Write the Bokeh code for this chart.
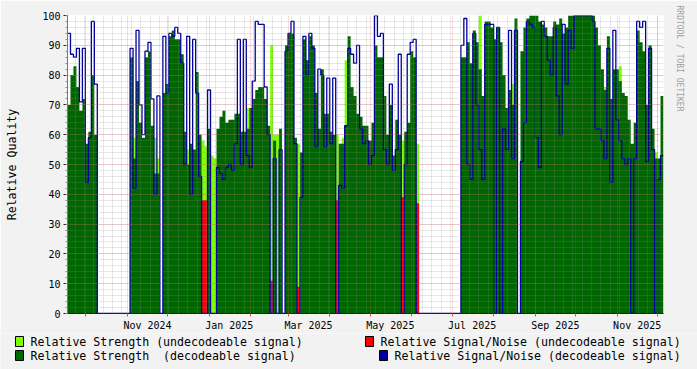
import math
from datetime import datetime, timedelta
from bokeh.plotting import figure
from bokeh.layouts import column
from bokeh.models import FixedTicker, DatetimeTickFormatter, Title
from bokeh.core.properties import value
from bokeh.embed import file_html
from bokeh.resources import INLINE

# ---------------- data (one sample per ~2.2 days) ----------------
START = datetime(2024, 9, 17, 9, 36)
SPAN_DAYS = 444.2
N_SAMPLES = 200

strength_dec = [
    70, 80, 83, 76, 68, 72, 57, 61, 80, 60,
    0, 0, 0, 0, 0, 0, 0, 0, 0, 0,
    0, 86, 52, 78, 64, 59, 86, 88, 63, 47,
    47, 0, 74, 77, 93, 95, 92, 92, 87, 61,
    50, 57, 55, 81, 60, 0, 0, 62, 0, 0,
    62, 66, 68, 64, 65, 65, 67, 67, 61, 61,
    62, 69, 72, 75, 76, 76, 72, 63, 0, 58,
    0, 62, 0, 90, 94, 94, 59, 0, 54, 92,
    85, 93, 90, 74, 62, 82, 67, 67, 61, 60,
    0, 57, 57, 63, 93, 76, 73, 67, 66, 63,
    63, 58, 64, 90, 86, 86, 73, 60, 70, 53,
    65, 60, 0, 61, 64, 88, 86, 0, 0, 0,
    0, 0, 0, 0, 0, 0, 0, 0, 0, 0,
    0, 0, 86, 86, 91, 84, 95, 91, 82, 73,
    98, 98, 96, 92, 96, 91, 80, 69, 75, 70,
    99, 0, 88, 96, 99, 100, 100, 100, 98, 97,
    96, 93, 93, 98, 97, 99, 94, 96, 100, 100,
    100, 100, 100, 100, 100, 100, 100, 96, 90, 82,
    75, 93, 72, 82, 82, 78, 74, 73, 65, 57,
    64, 95, 91, 88, 70, 90, 62, 52, 52, 73,
]

snr_dec = [
    94, 87, 86, 89, 71, 89, 44, 59, 98, 77,
    0, 0, 0, 0, 0, 0, 0, 0, 0, 0,
    0, 89, 42, 95, 70, 60, 88, 91, 72, 40,
    73, 0, 93, 74, 94, 93, 96, 94, 84, 50,
    93, 40, 92, 74, 46, 0, 0, 75, 0, 0,
    49, 47, 45, 49, 50, 48, 57, 92, 50, 92,
    53, 49, 78, 98, 97, 97, 76, 60, 0, 52,
    0, 55, 0, 88, 94, 98, 57, 0, 39, 93,
    80, 94, 89, 56, 82, 80, 56, 79, 57, 79,
    0, 43, 42, 63, 89, 87, 84, 90, 62, 57,
    58, 50, 53, 100, 93, 94, 55, 50, 77, 48,
    55, 87, 0, 50, 87, 91, 92, 0, 0, 0,
    0, 0, 0, 0, 0, 0, 0, 0, 0, 0,
    0, 0, 90, 99, 50, 45, 94, 70, 55, 45,
    97, 97, 97, 0, 96, 0, 62, 55, 95, 52,
    95, 0, 51, 64, 98, 97, 96, 59, 49, 98,
    93, 85, 80, 96, 73, 60, 97, 77, 95, 89,
    100, 100, 100, 100, 100, 100, 98, 62, 62, 58,
    52, 89, 44, 95, 65, 58, 52, 50, 52, 0,
    52, 98, 96, 98, 51, 89, 55, 0, 45, 53,
]

strength_undec = [
    0, 0, 0, 0, 0, 0, 0, 0, 0, 0,
    0, 0, 0, 0, 0, 0, 0, 0, 0, 0,
    0, 0, 59, 0, 0, 0, 0, 0, 0, 59,
    52, 0, 0, 0, 0, 0, 0, 0, 0, 0,
    55, 0, 0, 0, 0, 58, 56, 0, 53, 52,
    0, 0, 0, 0, 0, 0, 0, 0, 0, 0,
    69, 0, 0, 0, 0, 0, 0, 0, 90, 60,
    60, 0, 0, 0, 0, 0, 0, 57, 0, 0,
    0, 0, 0, 0, 0, 0, 0, 0, 0, 0,
    60, 0, 59, 85, 0, 0, 0, 0, 0, 0,
    0, 0, 0, 0, 0, 0, 0, 0, 0, 0,
    0, 0, 58, 58, 0, 0, 0, 57, 0, 0,
    0, 0, 0, 0, 0, 0, 0, 0, 0, 0,
    0, 0, 0, 0, 0, 0, 0, 0, 100, 0,
    0, 0, 0, 0, 0, 0, 0, 0, 0, 77,
    0, 0, 0, 0, 0, 0, 0, 0, 0, 0,
    0, 0, 0, 0, 0, 0, 0, 0, 0, 0,
    0, 0, 0, 0, 0, 0, 0, 0, 0, 0,
    76, 0, 0, 0, 0, 83, 0, 0, 0, 0,
    0, 0, 0, 0, 0, 0, 0, 54, 0, 0,
]

snr_undec = [
    0, 0, 0, 0, 0, 0, 0, 0, 0, 0,
    0, 0, 0, 0, 0, 0, 0, 0, 0, 0,
    0, 0, 0, 0, 0, 0, 0, 0, 0, 0,
    0, 0, 0, 0, 0, 0, 0, 0, 0, 0,
    0, 0, 0, 0, 0, 38, 38, 0, 0, 0,
    0, 0, 0, 0, 0, 0, 0, 0, 0, 0,
    0, 0, 0, 0, 0, 0, 0, 0, 11, 0,
    0, 0, 0, 0, 0, 0, 0, 9, 0, 0,
    0, 0, 0, 0, 0, 0, 0, 0, 0, 0,
    38, 0, 0, 0, 0, 0, 0, 0, 0, 0,
    0, 0, 0, 0, 0, 0, 0, 0, 0, 0,
    0, 0, 39, 0, 0, 0, 0, 37, 0, 0,
    0, 0, 0, 0, 0, 0, 0, 0, 0, 0,
    0, 0, 0, 0, 0, 0, 0, 0, 0, 0,
    0, 0, 0, 0, 0, 0, 0, 0, 0, 0,
    0, 0, 0, 0, 0, 0, 0, 0, 0, 0,
    0, 0, 0, 0, 0, 0, 0, 0, 0, 0,
    0, 0, 0, 0, 0, 0, 0, 0, 0, 0,
    0, 0, 0, 0, 0, 0, 0, 0, 0, 0,
    0, 0, 0, 0, 0, 0, 0, 0, 0, 0,
]

Y_TICKS = [0, 10, 20, 30, 40, 50, 60, 70, 80, 90, 100]
Y_MINOR = [0, 2, 4, 6, 8, 10, 12, 14, 16, 18, 20, 22, 24, 26, 28, 30, 32, 34, 36, 38,
           40, 42, 44, 46, 48, 50, 52, 54, 56, 58, 60, 62, 64, 66, 68, 70, 72, 74, 76, 78,
           80, 82, 84, 86, 88, 90, 92, 94, 96, 98, 100]
LABEL_MONTHS = [(2024, 11), (2025, 1), (2025, 3), (2025, 5), (2025, 7), (2025, 9), (2025, 11)]
GRID_MONTHS = [(2024, 10), (2024, 11), (2024, 12), (2025, 1), (2025, 2), (2025, 3), (2025, 4),
               (2025, 5), (2025, 6), (2025, 7), (2025, 8), (2025, 9), (2025, 10), (2025, 11),
               (2025, 12)]
FIRST_MONDAY = datetime(2024, 9, 23)

# (the second gap in "Strength  (decodeable" is a no-break space so SVG keeps both)
LEGEND_TEXT = [
    "Relative Strength (undecodeable signal)",
    "Relative Signal/Noise (undecodeable signal)",
    "Relative Strength \u00a0(decodeable signal)",
    "Relative Signal/Noise (decodeable signal)",
]
LEGEND_COLOR = ["#80FF00", "#FF0000", "#006600", "#000099"]

# ---------------- layout constants ----------------
W, H_MAIN, H_LEG = 697, 333, 36
FL, FT, FW, FH = 67, 15, 600, 300
BACK = "#F2F2F2"
GRIDC = "#8F8F8F"
MGRIDC = "#DE4F4F"
AXISC = "#1F1F1F"
FONT = "DejaVu Sans Mono"
LIME, RED, DGREEN, BLUE = LEGEND_COLOR

EPOCH = datetime(1970, 1, 1)
def ms(d):
    return (d - EPOCH).total_seconds() * 1000.0

DAY = 86400000.0
t0 = ms(START)
t_end = t0 + SPAN_DAYS * DAY
step = SPAN_DAYS * DAY / N_SAMPLES
xs = [t0 + i * step for i in range(N_SAMPLES)] + [t_end]
def ext(v):
    return list(v) + [v[-1]]

p = figure(width=W, height=H_MAIN, x_axis_type="datetime",
           x_range=(t0, t_end), y_range=(0, 100),
           min_border_left=FL, min_border_top=FT,
           min_border_right=W - FL - FW, min_border_bottom=H_MAIN - FT - FH,
           output_backend="svg", toolbar_location=None)
p.frame_align = False
p.background_fill_color = "white"
p.border_fill_color = BACK
p.outline_line_color = None

p.varea_step(x=xs, y1=0, y2=ext(strength_undec), step_mode="after", fill_color=LIME)
p.varea_step(x=xs, y1=0, y2=ext(snr_undec), step_mode="after", fill_color=RED)
p.varea_step(x=xs, y1=0, y2=ext(strength_dec), step_mode="after", fill_color=DGREEN)
p.step(x=xs, y=ext(snr_dec), mode="after", line_color=BLUE, line_width=1.3)

label_ticks = [ms(datetime(y, m, 1) + timedelta(days=15)) for y, m in LABEL_MONTHS]
month_ticks = [ms(datetime(y, m, 1)) for y, m in GRID_MONTHS]
week_ticks = []
d = FIRST_MONDAY
while ms(d) < t_end:
    week_ticks.append(ms(d))
    d += timedelta(days=7)

xa = p.xaxis[0]
xa.ticker = FixedTicker(ticks=label_ticks, minor_ticks=month_ticks)
fmt = "%b %Y"
xa.formatter = DatetimeTickFormatter(microseconds=fmt, milliseconds=fmt, seconds=fmt,
                                     minsec=fmt, minutes=fmt, hourmin=fmt, hours=fmt,
                                     days=fmt, months=fmt, years=fmt)
xa.major_tick_line_color = None
xa.major_tick_out = 0
xa.major_tick_in = 0
xa.minor_tick_line_color = MGRIDC
xa.minor_tick_out = 3
xa.minor_tick_in = 0
xa.axis_line_color = AXISC
xa.major_label_text_font = FONT
xa.major_label_text_font_size = "10px"
xa.major_label_text_color = "black"
xa.major_label_standoff = 3

ya = p.yaxis[0]
ya.ticker = FixedTicker(ticks=Y_TICKS, minor_ticks=Y_MINOR)
ya.major_tick_out = 4
ya.major_tick_in = 0
ya.major_tick_line_color = AXISC
ya.minor_tick_out = 2
ya.minor_tick_in = 0
ya.minor_tick_line_color = GRIDC
ya.axis_line_color = "#777777"
ya.major_label_text_font = FONT
ya.major_label_text_font_size = "10px"
ya.major_label_text_color = "black"
ya.major_label_standoff = 3
ya.axis_label = "Relative Quality"
ya.axis_label_text_font = FONT
ya.axis_label_text_font_size = "11.6px"
ya.axis_label_text_font_style = "normal"
ya.axis_label_text_color = "black"
ya.axis_label_standoff = 20

for g, tk in ((p.xgrid[0], FixedTicker(ticks=month_ticks, minor_ticks=week_ticks)),
              (p.ygrid[0], FixedTicker(ticks=Y_TICKS, minor_ticks=Y_MINOR))):
    g.ticker = tk
    g.grid_line_color = MGRIDC
    g.grid_line_alpha = 0.4
    g.grid_line_dash = "1 1"
    g.minor_grid_line_color = GRIDC
    g.minor_grid_line_alpha = 0.4
    g.minor_grid_line_dash = "1 1"
    g.level = "overlay"

# vertical credit text on the right
p.add_layout(Title(text="RRDTOOL / TOBI OETIKER", align="left", offset=-10, standoff=23,
                   text_font=FONT, text_font_size="8px", text_font_style="normal",
                   text_color="#9E9E9E"), "right")

# ---------------- legend strip (pixel coordinates) ----------------
leg = figure(width=W, height=H_LEG, x_range=(0, W), y_range=(H_LEG, 0),
             min_border_left=0, min_border_right=0, min_border_top=0, min_border_bottom=0,
             x_axis_location=None, y_axis_location=None,
             output_backend="svg", toolbar_location=None)
leg.frame_align = False
leg.background_fill_color = BACK
leg.border_fill_color = BACK
leg.outline_line_color = None
leg.xgrid.visible = False
leg.ygrid.visible = False

SQ_X = [15, 365, 15, 379]
TX_X = [30, 380, 30, 394]
ROW_Y = [8, 8, 22, 22]
leg.quad(left=SQ_X, right=[x + 8 for x in SQ_X],
         top=[y - 5 for y in ROW_Y], bottom=[y + 5 for y in ROW_Y],
         fill_color=LEGEND_COLOR, line_color="black", line_width=1)
leg.text(x=TX_X, y=ROW_Y, text=LEGEND_TEXT, text_font=value(FONT),
         text_font_size=value("11.6px"), text_color="black",
         text_align="left", text_baseline="middle")

layout = column(p, leg, spacing=0)
open("out.html", "w").write(file_html(layout, INLINE))
